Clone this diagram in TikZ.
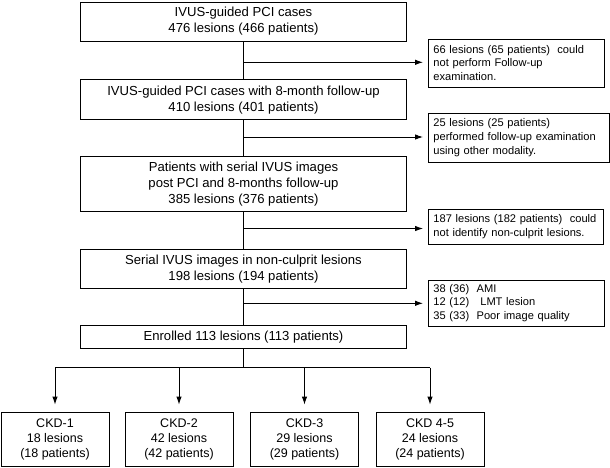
\documentclass[tikz,border=0pt]{standalone}
\usepackage{fontspec}
\setmainfont{Liberation Sans}
\usepackage{tikz}
\usetikzlibrary{arrows.meta}
\usetikzlibrary{positioning}
\tikzstyle{mbox}=[draw,minimum width=326pt,inner sep=1pt,align=center,
                font=\fontsize{13.1}{16}\selectfont]
\tikzstyle{sbox}=[draw,anchor=west,inner xsep=5pt,inner ysep=1pt,align=left,
                font=\fontsize{11.1}{13.8}\selectfont]
\tikzstyle{ckd}=[draw,minimum width=108pt,minimum height=54.5pt,inner sep=1pt,
                align=center,font=\fontsize{12.5}{15}\selectfont]
\tikzstyle{hit}=[-{Latex[length=8pt,width=5.5pt]}]

\begin{document}
\begin{tikzpicture}[x=1pt,y=1pt,line width=0.9pt]
  \useasboundingbox (0,0) rectangle (610,-467);

  % main column
  \node[mbox,minimum height=39pt] (b1) at (243.5,-21.5)
    {IVUS-guided PCI cases\\476 lesions (466 patients)};
  \node[mbox,minimum height=40pt,below=38pt of b1] (b2)
    {IVUS-guided PCI cases with 8-month follow-up\\410 lesions (401 patients)};
  \node[mbox,minimum height=55pt,below=36pt of b2] (b3)
    {Patients with serial IVUS images\\post PCI and 8-months follow-up\\385 lesions (376 patients)};
  \node[mbox,minimum height=39pt,below=37pt of b3] (b4)
    {Serial IVUS images in non-culprit lesions\\198 lesions (194 patients)};
  \node[mbox,minimum height=23pt,below=36pt of b4] (b5)
    {Enrolled 113 lesions (113 patients)};

  % excluded
  \node[sbox,text width=166pt,minimum height=48pt] (s1) at (428,-63)
    {66 lesions (65 patients)\ \ could\\not perform Follow-up\\examination.};
  \node[sbox,text width=171pt,minimum height=49pt] (s2) at (428,-137.5)
    {25 lesions (25 patients)\\performed follow-up examination\\using other modality.};
  \node[sbox,text width=165pt,minimum height=35pt] (s3) at (428,-227)
    {\mbox{187 lesions (182 patients)\ \ could}\\not identify non-culprit lesions.};
  \node[sbox,text width=166pt,minimum height=46pt] (s4) at (428,-303)
    {38 (36)\ \ AMI\\12 (12)\ \ \ LMT lesion\\35 (33)\ \ Poor image quality};

  \coordinate (j1) at (243.5,-62.3);
  \coordinate (j2) at (243.5,-137);
  \coordinate (j3) at (243.5,-228.5);
  \coordinate (j4) at (243.5,-303.3);
  \coordinate (br) at (243.5,-367.7);

  \draw (b1) -- (b2);
  \draw (b2) -- (b3);
  \draw (b3) -- (b4);
  \draw (b4) -- (b5);
  \draw (b5) -- (br);
  \foreach \i in {1,...,4}
    \draw[hit,shorten >=5pt] (j\i) -- (j\i -| s\i.west);

  % CKD groups
  \foreach \x/\n/\t in {55/c1/{CKD-1\\18 lesions\\(18 patients)},
                        179/c2/{CKD-2\\42 lesions\\(42 patients)},
                        304.5/c3/{CKD-3\\29 lesions\\(29 patients)},
                        430/c4/{CKD 4-5\\24 lesions\\(24 patients)}}
    \node[ckd] (\n) at (\x,-439.25) {\t};

  \draw (c1 |- br) -- (c4 |- br);
  \foreach \n in {c1,c2,c3,c4}
    \draw[hit,shorten >=7pt] (\n |- br) -- (\n.north);
\end{tikzpicture}
\end{document}
